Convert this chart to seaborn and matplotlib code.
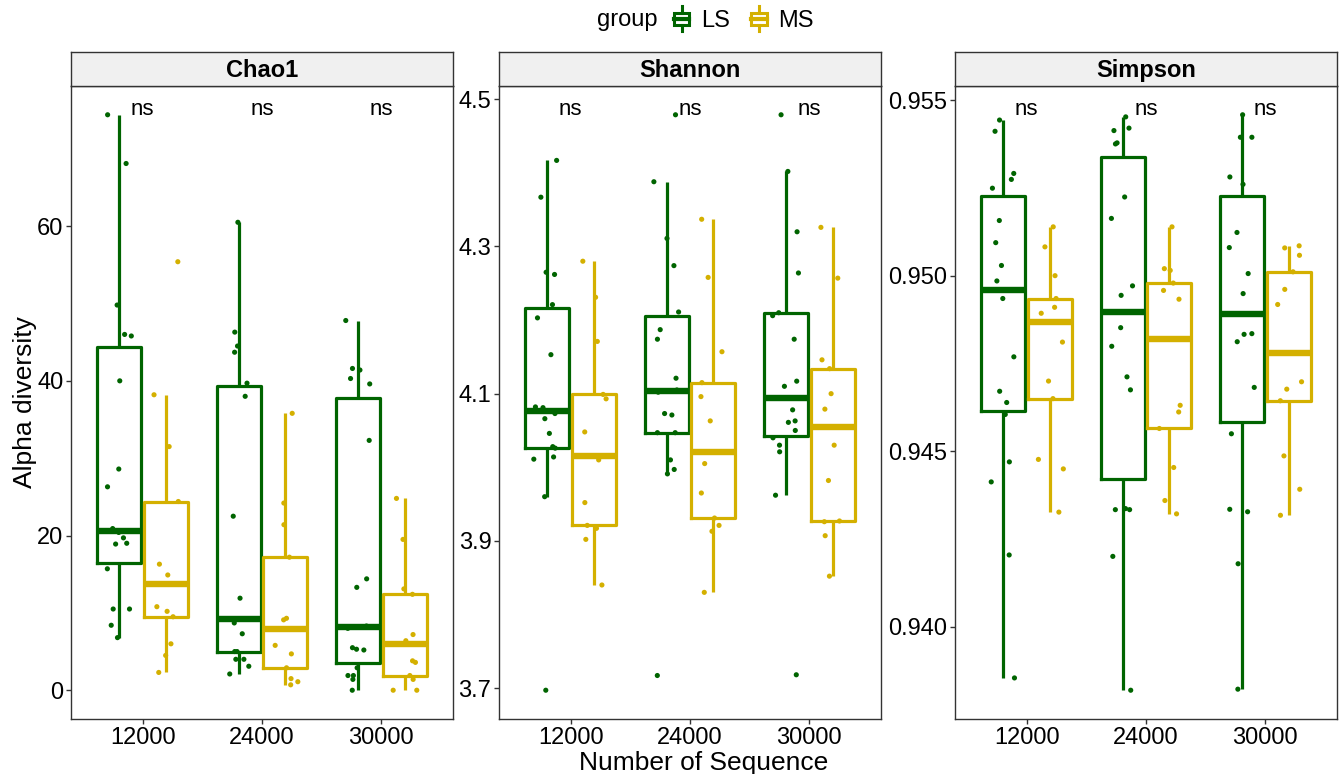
import numpy as np
import pandas as pd
import seaborn as sb
from matplotlib import pyplot as plt
from matplotlib.patches import Patch, Rectangle
from matplotlib.lines import Line2D
from matplotlib.legend_handler import HandlerBase
from matplotlib.ticker import FixedLocator, FormatStrFormatter

# ---- values ----
metrics = ['Chao1', 'Shannon', 'Simpson']
depths = ['12000', '24000', '30000']
groups = ['LS', 'MS']
colors = ['#006400', '#D4B000']

chao1_ls_12000 = [74.4, 68.1, 49.8, 46.0, 45.8, 40.0, 28.6, 26.3, 20.9, 20.4, 19.7, 19.0, 18.9, 15.7, 10.5, 10.5, 8.4, 6.8]
chao1_ms_12000 = [55.4, 38.2, 31.5, 24.4, 16.3, 14.9, 13.7, 10.8, 10.2, 9.5, 6.0, 4.5, 2.3]
chao1_ls_24000 = [60.5, 46.3, 44.5, 43.7, 39.7, 38.0, 22.5, 11.9, 9.2, 9.2, 8.7, 7.3, 5.0, 5.0, 4.0, 4.0, 3.1, 2.1]
chao1_ms_24000 = [35.8, 24.2, 21.4, 17.2, 9.3, 9.1, 7.9, 5.8, 4.7, 2.9, 1.5, 1.1, 0.7]
chao1_ls_30000 = [47.8, 41.6, 41.4, 40.3, 39.6, 32.3, 14.4, 13.3, 8.3, 8.0, 5.5, 5.3, 5.2, 2.9, 1.9, 1.9, 1.4, 0.0]
chao1_ms_30000 = [24.8, 19.5, 13.1, 12.4, 7.2, 6.4, 6.0, 3.8, 3.6, 1.9, 1.4, 0.0, 0.0]

shannon_ls_12000 = [4.417, 4.367, 4.265, 4.262, 4.221, 4.203, 4.153, 4.082, 4.081, 4.073, 4.066, 4.046, 4.028, 4.026, 4.014, 4.011, 3.960, 3.697]
shannon_ms_12000 = [4.280, 4.231, 4.171, 4.099, 4.093, 4.048, 4.015, 4.010, 3.952, 3.921, 3.917, 3.902, 3.840]
shannon_ls_24000 = [4.479, 4.388, 4.311, 4.274, 4.211, 4.187, 4.174, 4.121, 4.105, 4.102, 4.073, 4.071, 4.047, 4.047, 4.010, 3.997, 3.991, 3.717]
shannon_ms_24000 = [4.337, 4.258, 4.157, 4.115, 4.096, 4.063, 4.021, 4.005, 3.965, 3.931, 3.921, 3.913, 3.830]
shannon_ls_30000 = [4.479, 4.402, 4.320, 4.264, 4.210, 4.206, 4.174, 4.117, 4.110, 4.078, 4.063, 4.061, 4.050, 4.040, 4.030, 4.021, 3.962, 3.718]
shannon_ms_30000 = [4.326, 4.257, 4.146, 4.134, 4.100, 4.079, 4.055, 4.030, 3.982, 3.927, 3.926, 3.907, 3.852]

simpson_ls_12000 = [0.95443, 0.95411, 0.95291, 0.95274, 0.95249, 0.95157, 0.95094, 0.95029, 0.94985, 0.94935, 0.94769, 0.94671, 0.94639, 0.94605, 0.94470, 0.94413, 0.94205, 0.93855]
simpson_ms_12000 = [0.95139, 0.95082, 0.95000, 0.94935, 0.94910, 0.94893, 0.94867, 0.94811, 0.94700, 0.94650, 0.94477, 0.94450, 0.94327]
simpson_ls_24000 = [0.95452, 0.95420, 0.95413, 0.95378, 0.95375, 0.95224, 0.95163, 0.94971, 0.94944, 0.94852, 0.94799, 0.94712, 0.94675, 0.94337, 0.94334, 0.94334, 0.94201, 0.93820]
simpson_ms_24000 = [0.95139, 0.95020, 0.95015, 0.94979, 0.94958, 0.94933, 0.94820, 0.94631, 0.94612, 0.94565, 0.94454, 0.94360, 0.94322]
simpson_ls_30000 = [0.95458, 0.95394, 0.95394, 0.95281, 0.95260, 0.95123, 0.95080, 0.95006, 0.94949, 0.94835, 0.94833, 0.94812, 0.94682, 0.94550, 0.94335, 0.94328, 0.94180, 0.93823]
simpson_ms_30000 = [0.95085, 0.95079, 0.95058, 0.95011, 0.94961, 0.94918, 0.94779, 0.94698, 0.94677, 0.94644, 0.94487, 0.94392, 0.94318]

chao1_ticks = [0, 20, 40, 60]
shannon_ticks = [3.7, 3.9, 4.1, 4.3, 4.5]
simpson_ticks = [0.940, 0.945, 0.950, 0.955]
pvalue_labels = ['ns', 'ns', 'ns']

series = {
    'Chao1': {'LS': [chao1_ls_12000, chao1_ls_24000, chao1_ls_30000],
              'MS': [chao1_ms_12000, chao1_ms_24000, chao1_ms_30000]},
    'Shannon': {'LS': [shannon_ls_12000, shannon_ls_24000, shannon_ls_30000],
                'MS': [shannon_ms_12000, shannon_ms_24000, shannon_ms_30000]},
    'Simpson': {'LS': [simpson_ls_12000, simpson_ls_24000, simpson_ls_30000],
                'MS': [simpson_ms_12000, simpson_ms_24000, simpson_ms_30000]},
}
ticks = {'Chao1': (chao1_ticks, '%d'), 'Shannon': (shannon_ticks, '%.1f'),
         'Simpson': (simpson_ticks, '%.3f')}

rows = []
for m in metrics:
    for g in groups:
        for d, vals in zip(depths, series[m][g]):
            for v in vals:
                rows.append((m, g, d, v))
df = pd.DataFrame(rows, columns=['index', 'group', 'depth', 'value'])

plt.rcParams['font.family'] = ['Liberation Sans', 'DejaVu Sans']
np.random.seed(7)

W, H = 1341, 774
fig = plt.figure(figsize=(W / 100, H / 100), dpi=100)
lefts = [71, 499, 955]
pw = 382
top, bottom = 86, 719
edge = '#333333'


class BoxGlyph(HandlerBase):
    def create_artists(self, legend, orig_handle, xdescent, ydescent,
                       width, height, fontsize, trans):
        c = orig_handle.get_edgecolor()
        x0, y0 = -xdescent, -ydescent
        cx = x0 + width / 2
        box = Rectangle((x0, y0 + 0.22 * height), width, 0.56 * height,
                        facecolor='white', edgecolor=c, lw=2.2, transform=trans)
        lo = Line2D([cx, cx], [y0 - 0.1 * height, y0 + 0.22 * height], color=c, lw=2.2, transform=trans)
        hi = Line2D([cx, cx], [y0 + 0.78 * height, y0 + 1.1 * height], color=c, lw=2.2, transform=trans)
        med = Line2D([x0, x0 + width], [y0 + 0.5 * height] * 2, color=c, lw=3, transform=trans)
        return [box, lo, hi, med]


for i, m in enumerate(metrics):
    sub = df[df['index'] == m]
    ax = fig.add_axes([lefts[i] / W, 1 - bottom / H, pw / W, (bottom - top) / H])
    sb.boxplot(data=sub, x='depth', y='value', hue='group', order=depths,
               hue_order=groups, palette=colors, saturation=1, fill=False,
               width=0.78, gap=0.06, linewidth=2.3, showfliers=False,
               showcaps=False, medianprops={'linewidth': 4.6},
               legend=False, ax=ax)
    sb.stripplot(data=sub, x='depth', y='value', hue='group', order=depths,
                 hue_order=groups, palette=colors, dodge=True, jitter=0.22,
                 size=3.7, linewidth=0, legend=False, zorder=4, ax=ax)
    lo, hi = sub['value'].min(), sub['value'].max()
    pad = 0.05 * (hi - lo)
    ax.set_ylim(lo - pad, hi + pad)
    ax.set_xlim(-0.6, 2.6)
    for j, lab in enumerate(pvalue_labels):
        ax.text(j, hi, lab, ha='center', va='baseline', fontsize=16, zorder=5)
    tk, fmt = ticks[m]
    ax.yaxis.set_major_locator(FixedLocator(tk))
    ax.yaxis.set_major_formatter(FormatStrFormatter(fmt))
    ax.set_xlabel('')
    ax.set_ylabel('')
    ax.set_facecolor('white')
    for s in ax.spines.values():
        s.set_color(edge)
        s.set_linewidth(1.0)
    ax.tick_params(axis='both', direction='out', length=3.5, width=1,
                   color=edge, labelsize=17, labelcolor='black', pad=2)

    sax = fig.add_axes([lefts[i] / W, 1 - top / H, pw / W, 34 / H])
    sax.set_facecolor('#F0F0F0')
    sax.set_xticks([])
    sax.set_yticks([])
    for s in sax.spines.values():
        s.set_color(edge)
        s.set_linewidth(1.0)
    sax.text(0.5, 0.47, m, ha='center', va='center', fontsize=17,
             fontweight='bold', transform=sax.transAxes)

fig.text(25 / W, 1 - 402 / H, 'Alpha diversity', rotation=90,
         ha='center', va='center', fontsize=19)
fig.text(704 / W, 1 - 770 / H, 'Number of Sequence', ha='center',
         va='baseline', fontsize=19)

fig.text(597 / W, 1 - 20 / H, 'group', ha='left', va='center', fontsize=17)
handles = [Patch(edgecolor=c, facecolor='white') for c in colors]
fig.legend(handles, groups, handler_map={Patch: BoxGlyph()},
           loc='center left', bbox_to_anchor=(674 / W, 1 - 20 / H),
           ncol=2, frameon=False, borderpad=0, borderaxespad=0,
           handlelength=0.65, handleheight=1.0, handletextpad=0.5,
           columnspacing=0.9, fontsize=17)

fig.savefig('out.png', dpi=100)
